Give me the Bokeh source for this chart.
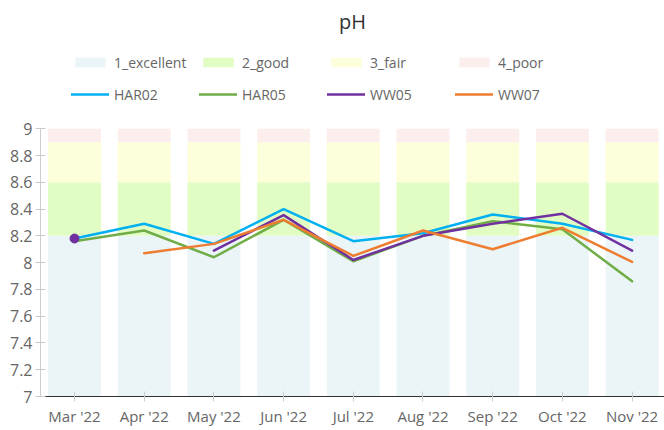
import math
from bokeh.plotting import figure
from bokeh.models import (Legend, LegendItem, FixedTicker, CustomJSTickFormatter,
                          ColumnDataSource, Range1d)
from bokeh.embed import file_html
from bokeh.resources import INLINE

months = ["Mar '22", "Apr '22", "May '22", "Jun '22", "Jul '22",
          "Aug '22", "Sep '22", "Oct '22", "Nov '22"]

band_names = ["1_excellent", "2_good", "3_fair", "4_poor"]
band_lower = [7.0, 8.2, 8.6, 8.9]
band_upper = [8.2, 8.6, 8.9, 9.0]
band_colors = ["#ebf5f8", "#e2fdc4", "#fdffda", "#fdeeee"]

nan = float("nan")
HAR02 = [8.18, 8.29, 8.14, 8.40, 8.16, 8.22, 8.36, 8.29, 8.17]
HAR05 = [8.16, 8.24, 8.04, 8.32, 8.01, 8.20, 8.31, 8.25, 7.86]
WW05 = [8.18, nan, 8.09, 8.355, 8.02, 8.20, 8.29, 8.365, 8.09]
WW07 = [nan, 8.07, 8.14, 8.32, 8.05, 8.24, 8.10, 8.26, 8.005]

series = [("HAR02", HAR02, "#00b0f0"), ("HAR05", HAR05, "#70ad47"),
          ("WW05", WW05, "#7030a0"), ("WW07", WW07, "#ed7d31")]

y_ticks = [7.0, 7.2, 7.4, 7.6, 7.8, 8.0, 8.2, 8.4, 8.6, 8.8, 9.0]

FONT = "Open Sans"
xs = list(range(len(months)))

# frame spans page y 40..396; 7 -> 396, 9 -> 129 (133.5 px per unit);
# the headroom above 9 holds the legend
p = figure(width=664, height=430,
           x_range=Range1d(-0.488, 8.465), y_range=Range1d(7, 9.6667),
           output_backend="svg", toolbar_location=None,
           min_border_left=40, min_border_right=0, min_border_bottom=34,
           min_border_top=38)
p.outline_line_color = None
p.xgrid.visible = False
p.ygrid.visible = False
p.background_fill_color = "white"
p.border_fill_color = "white"

p.title.text = "pH"
p.title.align = "center"
p.title.text_font = FONT
p.title.text_font_size = "20px"
p.title.text_font_style = "normal"
p.title.text_color = "#333333"

legend_items = []
for name, lo, hi, col in zip(band_names, band_lower, band_upper, band_colors):
    src = ColumnDataSource(dict(x=xs, bottom=[lo] * len(xs), top=[hi] * len(xs)))
    r = p.vbar(x="x", bottom="bottom", top="top", width=0.76, source=src,
               fill_color=col, line_color=None)
    legend_items.append(LegendItem(label=name, renderers=[r]))

for name, vals, col in series:
    src = ColumnDataSource(dict(x=xs, y=vals))
    r = p.line(x="x", y="y", source=src, line_color=col, line_width=2.5,
               line_join="round", line_cap="round")
    iso_x, iso_y = [], []
    for i, v in enumerate(vals):
        if math.isnan(v):
            continue
        prev_nan = i == 0 or math.isnan(vals[i - 1])
        next_nan = i == len(vals) - 1 or math.isnan(vals[i + 1])
        if prev_nan and next_nan:
            iso_x.append(i)
            iso_y.append(v)
    if iso_x:
        p.scatter(x=iso_x, y=iso_y, size=9, fill_color=col, line_color=col)
    legend_items.append(LegendItem(label=name, renderers=[r]))

p.xaxis.ticker = FixedTicker(ticks=xs)
p.xaxis.major_label_overrides = {i: m for i, m in enumerate(months)}
p.xaxis.axis_line_color = "#333333"
p.xaxis.major_tick_line_color = "#cccccc"
p.xaxis.major_tick_in = 5
p.xaxis.major_tick_out = 5
p.xaxis.minor_tick_line_color = None
p.xaxis.major_label_text_font = FONT
p.xaxis.major_label_text_font_size = "15px"
p.xaxis.major_label_text_color = "#666666"
p.xaxis.major_label_standoff = 4

p.yaxis.ticker = FixedTicker(ticks=y_ticks)
p.yaxis.bounds = (y_ticks[0], y_ticks[-1])
p.yaxis.formatter = CustomJSTickFormatter(code="return Number(tick.toFixed(1)).toString();")
p.yaxis.axis_line_color = "#cccccc"
p.yaxis.major_tick_line_color = "#cccccc"
p.yaxis.major_tick_in = 5
p.yaxis.major_tick_out = 5
p.yaxis.minor_tick_line_color = None
p.yaxis.major_label_text_font = FONT
p.yaxis.major_label_text_font_size = "16px"
p.yaxis.major_label_text_color = "#666666"
p.yaxis.major_label_standoff = 3

legend = Legend(items=legend_items, orientation="horizontal", ncols=4,
                location=(31, 292), glyph_width=38, glyph_height=12,
                label_width=73, label_height=20, label_standoff=5, spacing=12,
                padding=0, margin=0, border_line_color=None,
                background_fill_alpha=0,
                label_text_font=FONT, label_text_font_size="14px",
                label_text_color="#666666")
p.add_layout(legend, "center")

open("out.html", "w").write(file_html(p, INLINE))
